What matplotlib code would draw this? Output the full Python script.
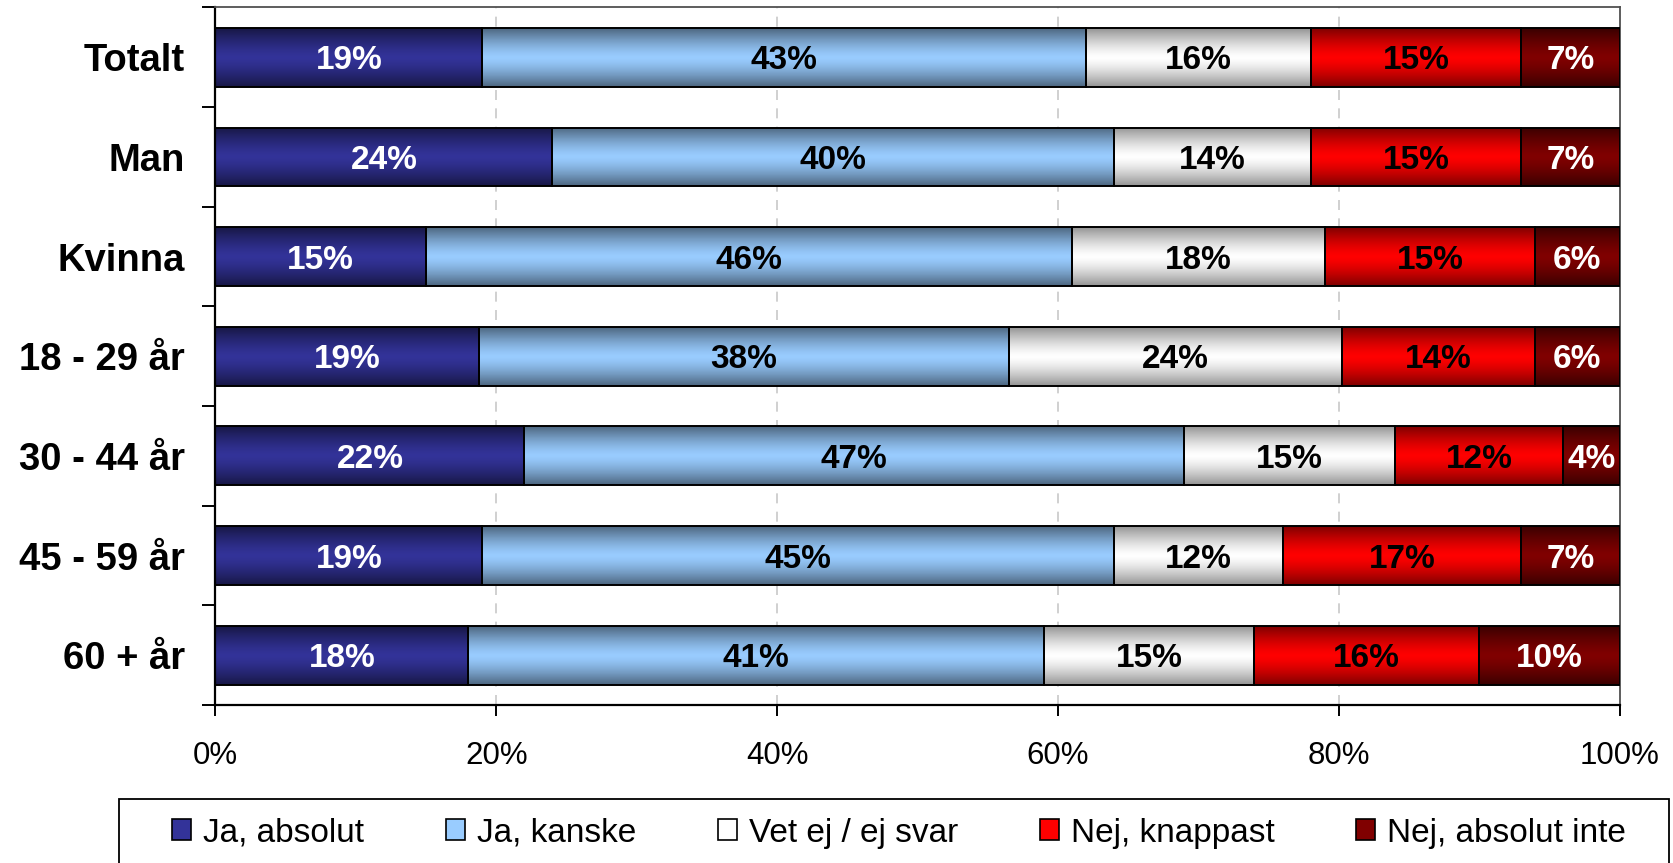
import numpy as np
import matplotlib
matplotlib.use("Agg")
import matplotlib.pyplot as plt
from matplotlib.colors import to_rgb
from matplotlib.patches import Patch, Rectangle

# survey answers per group, share in percent
groups = ["Totalt", "Man", "Kvinna", "18 - 29 år", "30 - 44 år", "45 - 59 år", "60 + år"]
answers = ["Ja, absolut", "Ja, kanske", "Vet ej / ej svar", "Nej, knappast", "Nej, absolut inte"]
ja_absolut = [19, 24, 15, 18.8, 22, 19, 18]
ja_kanske = [43, 40, 46, 37.7, 47, 45, 41]
vet_ej = [16, 14, 18, 23.7, 15, 12, 15]
nej_knappast = [15, 15, 15, 13.8, 12, 17, 16]
nej_absolut_inte = [7, 7, 6, 6.0, 4, 7, 10]
series = [ja_absolut, ja_kanske, vet_ej, nej_knappast, nej_absolut_inte]

colors = ["#333399", "#99CCFF", "#FFFFFF", "#FF0000", "#800000"]
edge_factor = [0.45, 0.5, 0.58, 0.5, 0.45]
text_colors = ["white", "black", "black", "black", "white"]
x_ticks = [0, 20, 40, 60, 80, 100]

W, H = 1673, 863
FONT = "Liberation Sans"


def gradient_fill(ax, bar, color, factor):
    """Excel-like fill: dark along top/bottom edge, full colour in the middle."""
    x0, y0 = bar.get_xy()
    w, h = bar.get_width(), bar.get_height()
    center = np.array(to_rgb(color))
    edge = center * factor
    t = np.linspace(0, 1, 80)
    s = 1 - np.abs(2 * t - 1) ** 1.4
    rgb = edge + (center - edge) * s[:, None]
    im = ax.imshow(rgb[:, None, :], extent=[x0, x0 + w, y0, y0 + h],
                   aspect="auto", interpolation="bilinear", zorder=2)
    im.set_clip_path(bar)


fig = plt.figure(figsize=(W / 100, H / 100), dpi=100)
fig.patch.set_facecolor("white")
ax = fig.add_axes([215.5 / W, 1 - 705 / H, (1619.5 - 215.5) / W, (705 - 7.5) / H])

y = np.arange(len(groups))
left = np.zeros(len(groups))
for vals, col, fac, tcol in zip(series, colors, edge_factor, text_colors):
    vals = np.array(vals, dtype=float)
    bars = ax.barh(y, vals, left=left, height=0.59, facecolor="none",
                   edgecolor="black", linewidth=1.4, zorder=3)
    for bar in bars:
        gradient_fill(ax, bar, col, fac)
    for yi, l, v in zip(y, left, vals):
        ax.text(l + v / 2, yi, f"{round(v):.0f}%", ha="center", va="center_baseline",
                color=tcol, fontsize=24, fontweight="bold", family=FONT, zorder=4)
    left += vals

ax.set_xlim(0, 100)
ax.set_ylim(len(groups) - 0.5, -0.5)

ax.set_xticks(x_ticks)
ax.set_xticklabels([f"{v}%" for v in x_ticks], fontsize=22.5, family=FONT)
ax.tick_params(axis="x", direction="out", length=8, width=1.4, pad=18)

ax.set_yticks(np.arange(len(groups) + 1) - 0.5)
ax.set_yticklabels([])
ax.set_yticks(y, minor=True)
ax.set_yticklabels(groups, minor=True, fontsize=27.5, fontweight="bold", family=FONT)
ax.tick_params(axis="y", which="major", direction="out", length=9.5, width=1.4)
ax.tick_params(axis="y", which="minor", length=0, pad=22)

for v in x_ticks[1:-1]:
    ax.axvline(v, color="#C8C8C8", linewidth=1.2, linestyle=(0, (6, 5)), zorder=1)

for side in ("left", "bottom"):
    ax.spines[side].set_color("black")
    ax.spines[side].set_linewidth(1.6)
for side in ("top", "right"):
    ax.spines[side].set_color("#505050")
    ax.spines[side].set_linewidth(1.3)

# legend, frame drawn separately so the inner padding can be wide
handles = [Patch(facecolor=c, edgecolor="black", linewidth=1.2) for c in colors]
fig.legend(handles, answers, loc="center", ncol=5, mode="expand", frameon=False,
           bbox_to_anchor=(172 / W, 1 - 851 / H, (1626 - 172) / W, 36 / H),
           prop={"family": FONT, "size": 24},
           handlelength=0.58, handleheight=0.58, handletextpad=0.35,
           borderpad=0, borderaxespad=0)
fig.patches.append(Rectangle((119 / W, 1 - 870 / H), (1669 - 119) / W, (870 - 799) / H,
                             transform=fig.transFigure, fill=False,
                             edgecolor="black", linewidth=1.3))

fig.savefig("out.png", dpi=100, facecolor="white")
